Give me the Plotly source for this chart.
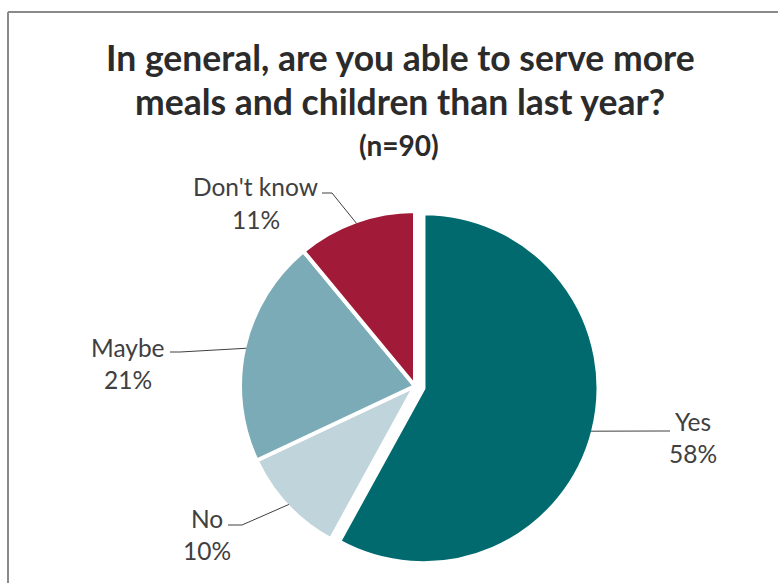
import math
import plotly.graph_objects as go

# ---- data ----
categories = ["Yes", "No", "Maybe", "Don't know"]
values = [58, 10, 21, 11]
pct_labels = ["58%", "10%", "21%", "11%"]
colors = ["#016A6E", "#C0D4DB", "#7BABB6", "#A11A37"]
pulls = [0.05, 0, 0, 0]

title_line1 = "In general, are you able to serve more"
title_line2 = "meals and children than last year?"
subtitle = "(n=90)"

# ---- layout constants (pixels) ----
W, H = 778, 583
CX, CY = 415, 386        # pie centre
R = 175                  # plotly radius (stroke centre)
STROKE = 4
R_VIS = R - STROKE / 2
MAXPULL = max(pulls)

half = R * (1 + MAXPULL)
dom_x = [(CX - half) / W, (CX + half) / W]
dom_y = [1 - (CY + half) / H, 1 - (CY - half) / H]

# label placement (text centre of name line, text-side end of leader, elbow length)
label_layout = {
    "Don't know": dict(tx=256, ty=187, lx=322, ly=193, elbow=10),
    "Maybe": dict(tx=128, ty=347, lx=170, ly=352, elbow=10),
    "No": dict(tx=207, ty=518, lx=228, ly=525, elbow=14),
    "Yes": dict(tx=693, ty=421, lx=670, ly=431, elbow=-10),
}
PCT_DY = 32
FONT = "Lato, 'Open Sans', sans-serif"

def px(x):
    return x / W

def py(y):
    return 1 - y / H

fig = go.Figure(go.Pie(
    labels=categories,
    values=values,
    sort=False,
    direction="clockwise",
    rotation=0,
    pull=pulls,
    marker=dict(colors=colors, line=dict(color="white", width=STROKE)),
    textinfo="none",
    hoverinfo="label+percent",
    showlegend=False,
    domain=dict(x=dom_x, y=dom_y),
))

annotations = []
shapes = []

total = sum(values)
cum = 0
font_lbl = dict(family=FONT, size=24.5, color="#404040")
for cat, v, pct, pull in zip(categories, values, pct_labels, pulls):
    mid = (cum + v / 2) / total * 2 * math.pi
    cum += v
    dx, dy = math.sin(mid), -math.cos(mid)
    cx = CX + pull * R * dx
    cy = CY + pull * R * dy
    ex, ey = cx + R_VIS * dx, cy + R_VIS * dy
    L = label_layout[cat]
    elx = L["lx"] + L["elbow"]
    path = f"M {px(L['lx'])},{py(L['ly'])} L {px(elx)},{py(L['ly'])} L {px(ex)},{py(ey)}"
    shapes.append(dict(type="path", xref="paper", yref="paper", path=path,
                       line=dict(color="#404040", width=1)))
    annotations.append(dict(x=px(L["tx"]), y=py(L["ty"]), xref="paper", yref="paper",
                            text=cat, showarrow=False, font=font_lbl,
                            xanchor="center", yanchor="middle"))
    annotations.append(dict(x=px(L["tx"]), y=py(L["ty"] + PCT_DY), xref="paper", yref="paper",
                            text=pct, showarrow=False, font=font_lbl,
                            xanchor="center", yanchor="middle"))

font_title = dict(family=FONT, size=35.5, color="#2B2B2B")
annotations += [
    dict(x=px(400), y=py(57), xref="paper", yref="paper", text=f"<b>{title_line1}</b>",
         showarrow=False, font=font_title, xanchor="center", yanchor="middle"),
    dict(x=px(400), y=py(101), xref="paper", yref="paper", text=f"<b>{title_line2}</b>",
         showarrow=False, font=font_title, xanchor="center", yanchor="middle"),
    dict(x=px(399), y=py(145), xref="paper", yref="paper", text=f"<b>{subtitle}</b>",
         showarrow=False, font=dict(family=FONT, size=28, color="#2B2B2B"),
         xanchor="center", yanchor="middle"),
]

# chart frame (top and left edges visible)
shapes += [
    dict(type="line", xref="paper", yref="paper", x0=px(8), y0=py(12), x1=1, y1=py(12),
         line=dict(color="#8A8A8A", width=2)),
    dict(type="line", xref="paper", yref="paper", x0=px(8), y0=py(12), x1=px(8), y1=0,
         line=dict(color="#8A8A8A", width=2)),
]

fig.update_layout(
    width=W, height=H,
    margin=dict(l=0, r=0, t=0, b=0),
    paper_bgcolor="white",
    plot_bgcolor="white",
    annotations=annotations,
    shapes=shapes,
)

fig.write_html("out.html", config={"displayModeBar": False},
               post_script="document.body.style.margin='0';")
